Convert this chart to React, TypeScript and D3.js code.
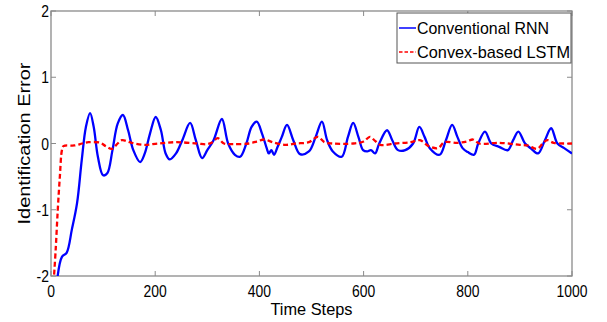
import * as d3 from "d3";

const W = 607;
const H = 322;

// conventional RNN (blue)
const rnnT = [12, 21, 30, 40, 50, 59, 67, 75, 82, 90, 100, 108, 118, 128, 138, 148, 158, 171, 180, 190, 201, 211, 220, 228, 240, 252, 267, 278, 290, 300, 312, 328, 340, 353, 363, 375, 385, 395, 405, 414, 418, 423, 428, 435, 443, 453, 465, 478, 495, 508, 520, 530, 541, 558, 570, 580, 590, 599, 607, 614, 622, 630, 645, 655, 666, 680, 695, 707, 717, 727, 746, 758, 770, 780, 790, 800, 812, 820, 833, 845, 860, 877, 887, 897, 910, 922, 935, 948, 960, 972, 985, 1000];
const rnnV = [-2.05, -1.71, -1.65, -1.3, -0.9, -0.25, 0.25, 0.46, 0.25, -0.2, -0.48, -0.45, -0.1, 0.3, 0.43, 0.2, -0.1, -0.28, -0.15, 0.15, 0.4, 0.2, -0.15, -0.24, -0.15, 0.05, 0.31, 0.05, -0.22, -0.1, 0.05, 0.37, 0.0, -0.17, -0.2, 0.0, 0.25, 0.33, 0.15, -0.07, -0.15, -0.1, -0.17, -0.05, 0.1, 0.28, 0.05, -0.16, -0.12, 0.1, 0.33, 0.05, -0.12, -0.2, 0.1, 0.31, 0.1, -0.1, -0.12, -0.1, -0.15, 0.0, 0.2, 0.05, -0.1, -0.1, 0.0, 0.25, 0.1, -0.07, -0.17, 0.05, 0.28, 0.1, -0.07, -0.13, -0.17, 0.0, 0.18, 0.0, -0.05, -0.1, 0.05, 0.18, 0.0, -0.08, -0.15, 0.05, 0.23, 0.0, -0.07, -0.15];

// convex-based LSTM (red dashed)
const lstmT = [5, 9, 13, 17, 21, 24, 45, 60, 72, 95, 105, 117, 128, 136, 155, 180, 205, 240, 280, 300, 310, 320, 332, 350, 380, 395, 410, 425, 450, 470, 495, 512, 525, 540, 580, 600, 612, 622, 632, 660, 690, 708, 725, 743, 755, 780, 798, 810, 822, 860, 900, 915, 933, 944, 952, 965, 1000];
const lstmV = [-2.1, -1.6, -1.0, -0.5, -0.1, -0.04, -0.03, 0.0, 0.02, 0.01, -0.04, -0.08, 0.0, 0.05, 0.01, -0.02, 0.0, 0.02, 0.0, -0.01, 0.02, 0.08, 0.0, -0.01, 0.0, 0.03, 0.06, 0.02, -0.02, 0.0, 0.02, 0.1, 0.02, 0.0, 0.0, 0.03, 0.1, 0.04, -0.02, 0.0, 0.02, 0.05, -0.04, -0.07, 0.02, 0.01, 0.03, 0.06, 0.0, 0.01, -0.02, -0.03, -0.08, 0.0, 0.05, 0.01, 0.0];

const xTicks = [0, 200, 400, 600, 800, 1000];
const yTicks = [-2, -1, 0, 1, 2];
const seriesNames = ["Conventional RNN", "Convex-based LSTM"];

const font = "'Liberation Sans', Arial, sans-serif";
const narrow = 0.82; // the original uses a condensed face

export default function App() {
  const m = { left: 51, right: 572, top: 11, bottom: 276 };
  const x = d3.scaleLinear().domain([0, 1000]).range([m.left, m.right]);
  const y = d3.scaleLinear().domain([-2, 2]).range([m.bottom, m.top]);

  const line = d3
    .line<[number, number]>()
    .x((d) => x(d[0]))
    .y((d) => y(d[1]))
    .curve(d3.curveCatmullRom.alpha(0.5));

  const rnn = rnnT.map((t, i) => [t, rnnV[i]] as [number, number]);
  const lstm = lstmT.map((t, i) => [t, lstmV[i]] as [number, number]);

  const axisColor = "#8a8a8a";

  return (
    <svg
      width={W}
      height={H}
      style={{ position: "absolute", left: 0, top: 0, background: "#fff" }}
      fontFamily={font}
    >
      <defs>
        <clipPath id="plot">
          <rect x={m.left} y={m.top} width={m.right - m.left} height={m.bottom - m.top} />
        </clipPath>
      </defs>
      <rect x={m.left} y={m.top} width={m.right - m.left} height={m.bottom - m.top} fill="none" stroke={axisColor} strokeWidth={1.3} />
      {xTicks.map((t) => (
        <g key={"x" + t}>
          <line x1={x(t)} x2={x(t)} y1={m.bottom} y2={m.bottom - 5} stroke={axisColor} />
          <line x1={x(t)} x2={x(t)} y1={m.top} y2={m.top + 5} stroke={axisColor} />
          <text transform={`translate(${x(t)},${m.bottom + 21}) scale(${narrow},1)`} fontSize={17} textAnchor="middle">{t}</text>
        </g>
      ))}
      {yTicks.map((t) => (
        <g key={"y" + t}>
          <line x1={m.left} x2={m.left + 5} y1={y(t)} y2={y(t)} stroke={axisColor} />
          <line x1={m.right} x2={m.right - 5} y1={y(t)} y2={y(t)} stroke={axisColor} />
          <text transform={`translate(${m.left - 2},${y(t)}) scale(${narrow},1)`} dy="0.36em" fontSize={17} textAnchor="end">{t}</text>
        </g>
      ))}
      <g clipPath="url(#plot)">
        <path d={line(rnn) ?? ""} fill="none" stroke="#0000ff" strokeWidth={2.3} />
        <path d={line(lstm) ?? ""} fill="none" stroke="#ff0000" strokeWidth={2.3} strokeDasharray="5,3" />
      </g>
      <text x={(m.left + m.right) / 2} y={315} fontSize={17} textAnchor="middle" textLength={82} lengthAdjust="spacingAndGlyphs">Time Steps</text>
      <text transform={`translate(30,${(m.top + m.bottom) / 2}) rotate(-90)`} fontSize={17} textAnchor="middle" textLength={162} lengthAdjust="spacingAndGlyphs">Identification Error</text>
      <g>
        <rect x={397} y={13} width={174} height={50} fill="#fff" stroke="#555" strokeWidth={1} />
        <line x1={399} x2={416} y1={28} y2={28} stroke="#0000ff" strokeWidth={1.5} />
        <line x1={399} x2={416} y1={52} y2={52} stroke="#ff0000" strokeWidth={1.5} strokeDasharray="3.5,2" />
        <text x={417} y={28} dy="0.36em" fontSize={17} textLength={132} lengthAdjust="spacingAndGlyphs">{seriesNames[0]}</text>
        <text x={417} y={52} dy="0.36em" fontSize={17} textLength={153} lengthAdjust="spacingAndGlyphs">{seriesNames[1]}</text>
      </g>
    </svg>
  );
}
